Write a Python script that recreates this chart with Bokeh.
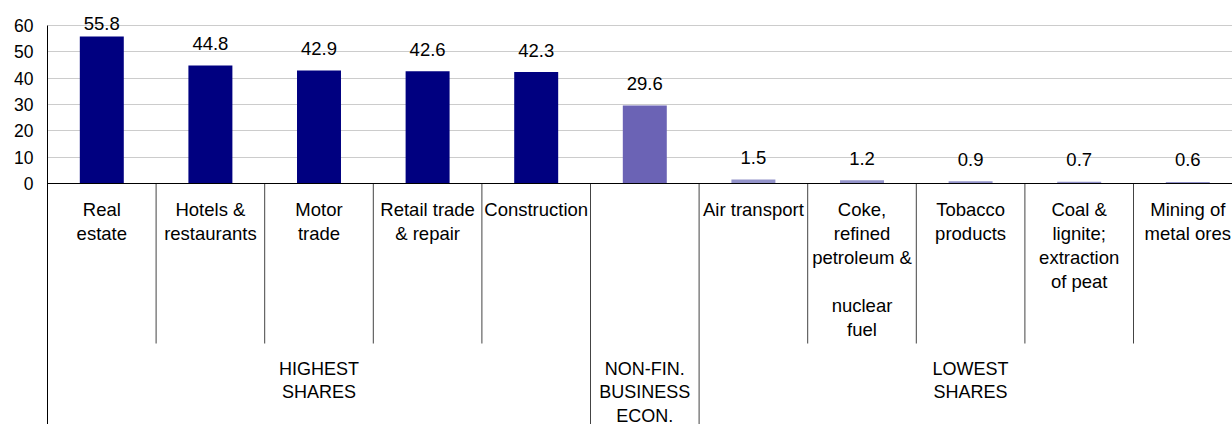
from bokeh.plotting import figure
from bokeh.models import Range1d, FixedTicker, Span, ColumnDataSource
from bokeh.core.properties import value
from bokeh.embed import file_html
from bokeh.resources import INLINE

# ---------------- data ----------------
categories = [
    "Real estate", "Hotels & restaurants", "Motor trade", "Retail trade & repair",
    "Construction", "Non-financial business economy", "Air transport",
    "Coke, refined petroleum & nuclear fuel", "Tobacco products",
    "Coal & lignite; extraction of peat", "Mining of metal ores",
]
category_lines = [
    ["Real", "estate"],
    ["Hotels &", "restaurants"],
    ["Motor", "trade"],
    ["Retail trade", "& repair"],
    ["Construction"],
    [],
    ["Air transport"],
    ["Coke,", "refined", "petroleum &", "", "nuclear", "fuel"],
    ["Tobacco", "products"],
    ["Coal &", "lignite;", "extraction", "of peat"],
    ["Mining of", "metal ores"],
]
shares = [55.8, 44.8, 42.9, 42.6, 42.3, 29.6, 1.5, 1.2, 0.9, 0.7, 0.6]
bar_group = ["high"] * 5 + ["total"] + ["low"] * 5
groups = ["high", "total", "low"]
group_lines = {
    "high": ["HIGHEST", "SHARES"],
    "total": ["NON-FIN.", "BUSINESS", "ECON."],
    "low": ["LOWEST", "SHARES"],
}
y_ticks = [0, 10, 20, 30, 40, 50, 60]

# ---------------- style ----------------
colors = {"high": "#000080", "total": "#6B63B5", "low": "#9393CA"}
FONT = "Liberation Sans"
PPU = 158.0 / 60.0          # pixels per unit on the y axis
n = len(categories)
SHIFT = 7                   # baseline correction in pixels

def px(pixels):
    return pixels / PPU

y_top = 60 + px(25)
y_bottom = -px(241)

p = figure(width=1232, height=424, output_backend="svg", toolbar_location=None,
           x_range=Range1d(-0.5, -0.5 + 1185 / 108.6),
           y_range=Range1d(y_bottom, y_top),
           x_axis_location=None,
           min_border_left=47, min_border_right=0, min_border_top=0, min_border_bottom=0)
p.outline_line_color = None
p.xgrid.visible = False
p.ygrid.ticker = FixedTicker(ticks=y_ticks)
p.ygrid.grid_line_color = "#CCCCCC"
p.ygrid.grid_line_width = 1

ax = p.yaxis[0]
ax.ticker = FixedTicker(ticks=y_ticks)
ax.bounds = (y_bottom, 60)
ax.axis_line_color = "black"
ax.major_tick_line_color = None
ax.minor_tick_line_color = None
ax.major_tick_out = 0
ax.major_tick_in = 0
ax.major_label_standoff = 14
ax.major_label_text_font = FONT
ax.major_label_text_font_size = "17.5px"
ax.major_label_text_color = "black"

xs = list(range(n))
src = ColumnDataSource(dict(x=xs, top=shares, color=[colors[g] for g in bar_group],
                            lab=[f"{v:.1f}" for v in shares],
                            laby=[min(v + px(15 + SHIFT), 60 - px(5 - SHIFT)) for v in shares]))
p.vbar(x="x", top="top", bottom=0, width=0.405, fill_color="color", line_color=None, source=src)
p.text(x="x", y="laby", text="lab", source=src, text_align="center", text_baseline="alphabetic",
       text_font=value(FONT), text_font_size="18.5px", text_color="black")

p.add_layout(Span(location=0, dimension="width", line_color="black", line_width=1))

# separators
sep_x, sep_y1 = [], []
for i in range(n - 1):
    sep_x.append(i + 0.5)
    if bar_group[i] != bar_group[i + 1]:
        sep_y1.append(y_bottom)
    else:
        sep_y1.append(-px(160))
p.segment(x0=sep_x, y0=[0] * len(sep_x), x1=sep_x, y1=sep_y1, line_color="#444444", line_width=1)

# category labels
cx, ct, co = [], [], []
for i, lines in enumerate(category_lines):
    for k, t in enumerate(lines):
        if t:
            cx.append(i)
            ct.append(t)
            co.append(33 - SHIFT + 24 * k)
p.text(x=cx, y=[0] * len(cx), text=ct, y_offset=co, text_align="center", text_baseline="alphabetic",
       text_font=value(FONT), text_font_size="18.5px", text_color="black")

# group labels
gx, gt, go = [], [], []
for g in groups:
    idx = [i for i, b in enumerate(bar_group) if b == g]
    center = (min(idx) + max(idx)) / 2
    for k, t in enumerate(group_lines[g]):
        gx.append(center)
        gt.append(t)
        go.append(192 - SHIFT + 23.5 * k)
p.text(x=gx, y=[0] * len(gx), text=gt, y_offset=go, text_align="center", text_baseline="alphabetic",
       text_font=value(FONT), text_font_size="18px", text_color="black")

open("out.html", "w").write(file_html(p, INLINE))
